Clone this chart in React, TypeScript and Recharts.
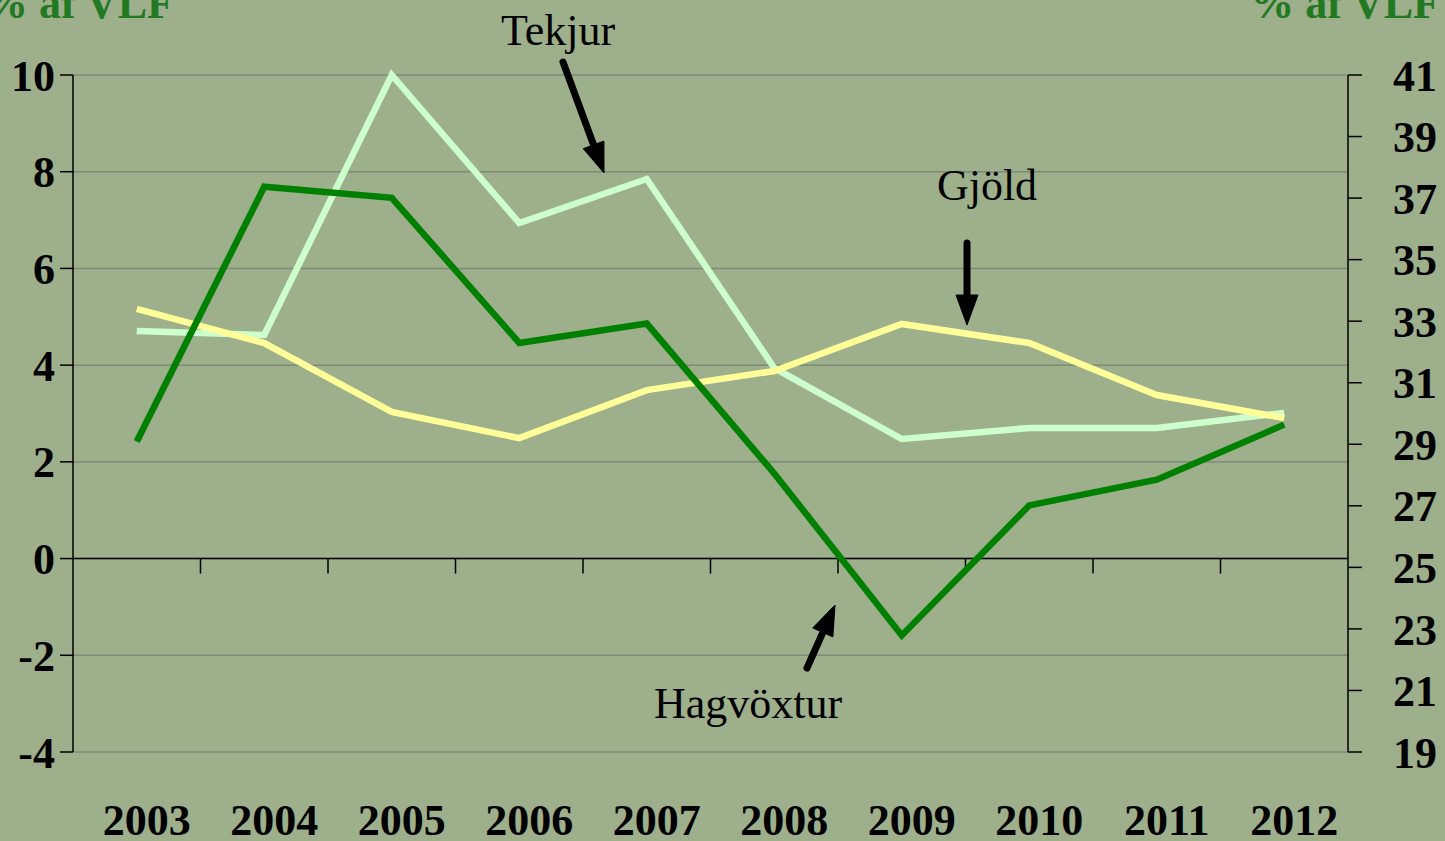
import React from 'react';
import { ComposedChart, Line, XAxis, YAxis, CartesianGrid, ReferenceLine } from 'recharts';

const years = ['2003', '2004', '2005', '2006', '2007', '2008', '2009', '2010', '2011', '2012'];
const hagvoxtur = [2.42, 7.69, 7.46, 4.46, 4.86, 1.76, -1.59, 1.1, 1.63, 2.77];
const tekjur = [32.68, 32.55, 41.0, 36.19, 37.62, 31.48, 29.17, 29.53, 29.53, 30.02];
const gjold = [33.4, 32.29, 30.05, 29.2, 30.76, 31.38, 32.91, 32.29, 30.6, 29.85];
const leftTicks = [-4, -2, 0, 2, 4, 6, 8, 10];
const rightTicks = [19, 21, 23, 25, 27, 29, 31, 33, 35, 37, 39, 41];

const data = years.map((y, i) => ({ year: y, hag: hagvoxtur[i], tek: tekjur[i], gjo: gjold[i] }));

const FONT = '"Liberation Serif", "Times New Roman", serif';
const BG = '#9DAF8B';

const tickStyle = { fontFamily: FONT, fontSize: 44, fontWeight: 700, fill: '#000' };

function ZeroLine(props: any) {
  const { x1, y1, x2, y2 } = props;
  const n = years.length;
  const step = (x2 - x1) / n;
  const ticks = [];
  for (let i = 1; i < n; i++) {
    const x = x1 + i * step;
    ticks.push(<line key={i} x1={x} y1={y1} x2={x} y2={y1 + 15} stroke="#000" strokeWidth={1.5} />);
  }
  return (
    <g>
      <line x1={x1} y1={y1} x2={x2} y2={y2} stroke="#000" strokeWidth={1.5} />
      {ticks}
    </g>
  );
}

function Arrow({ x1, y1, x2, y2 }: { x1: number; y1: number; x2: number; y2: number }) {
  const dx = x2 - x1;
  const dy = y2 - y1;
  const len = Math.sqrt(dx * dx + dy * dy);
  const ux = dx / len;
  const uy = dy / len;
  const hl = 30;
  const hw = 11;
  const bx = x2 - hl * ux;
  const by = y2 - hl * uy;
  const nx = -uy;
  const ny = ux;
  const pts = `${x2},${y2} ${bx + hw * nx},${by + hw * ny} ${bx - hw * nx},${by - hw * ny}`;
  return (
    <g>
      <line x1={x1} y1={y1} x2={bx + 2 * ux} y2={by + 2 * uy} stroke="#000" strokeWidth={7} strokeLinecap="round" />
      <polygon points={pts} fill="#000" stroke="#000" strokeWidth={1} strokeLinejoin="round" />
    </g>
  );
}

export default function App() {
  return (
    <div style={{ position: 'absolute', left: 0, top: 0, width: 1445, height: 841, background: BG, overflow: 'hidden' }}>
      <ComposedChart width={1445} height={841} data={data} margin={{ top: 75, right: 0, bottom: 0, left: 0 }}>
        <CartesianGrid yAxisId="left" vertical={false} stroke="#7f8a78" strokeWidth={1.5} />
        <XAxis
          dataKey="year"
          scale="band"
          height={89}
          axisLine={false}
          tickLine={false}
          tickSize={0}
          tickMargin={52}
          tick={{ ...tickStyle, dx: 10 }}
          interval={0}
        />
        <YAxis
          yAxisId="left"
          width={73}
          domain={[-4, 10]}
          ticks={leftTicks}
          interval={0}
          tickSize={13}
          tickMargin={5}
          tick={tickStyle}
          axisLine={{ stroke: '#000', strokeWidth: 1.5 }}
          tickLine={{ stroke: '#000', strokeWidth: 1.5 }}
        />
        <YAxis
          yAxisId="right"
          orientation="right"
          width={97}
          domain={[19, 41]}
          ticks={rightTicks}
          interval={0}
          tickSize={14}
          tickMargin={31}
          tick={tickStyle}
          axisLine={{ stroke: '#000', strokeWidth: 1.5 }}
          tickLine={{ stroke: '#000', strokeWidth: 1.5 }}
        />
        <ReferenceLine yAxisId="left" y={0} shape={(p: any) => <ZeroLine {...p} />} />
        <Line yAxisId="right" dataKey="tek" stroke="#CCFFCC" strokeWidth={6.5} dot={false} isAnimationActive={false} />
        <Line yAxisId="right" dataKey="gjo" stroke="#FFFF99" strokeWidth={6.5} dot={false} isAnimationActive={false} />
        <Line yAxisId="left" dataKey="hag" stroke="#008000" strokeWidth={6.5} dot={false} isAnimationActive={false} />
      </ComposedChart>
      <svg width={1445} height={841} style={{ position: 'absolute', left: 0, top: 0, pointerEvents: 'none' }}>
        <text x={-16} y={18} fontFamily={FONT} fontSize={44} fontWeight={700} fill="#217A21">% af VLF</text>
        <text x={1440} y={18} textAnchor="end" fontFamily={FONT} fontSize={44} fontWeight={700} fill="#217A21">% af VLF</text>
        <text x={558} y={45} textAnchor="middle" fontFamily={FONT} fontSize={44} fill="#000">Tekjur</text>
        <text x={987} y={200} textAnchor="middle" fontFamily={FONT} fontSize={44} fill="#000">Gjöld</text>
        <text x={748} y={718} textAnchor="middle" fontFamily={FONT} fontSize={44} fill="#000">Hagvöxtur</text>
        <Arrow x1={563} y1={62} x2={604} y2={173} />
        <Arrow x1={967} y1={243} x2={967} y2={325} />
        <Arrow x1={807} y1={668} x2={835} y2={605} />
      </svg>
    </div>
  );
}
